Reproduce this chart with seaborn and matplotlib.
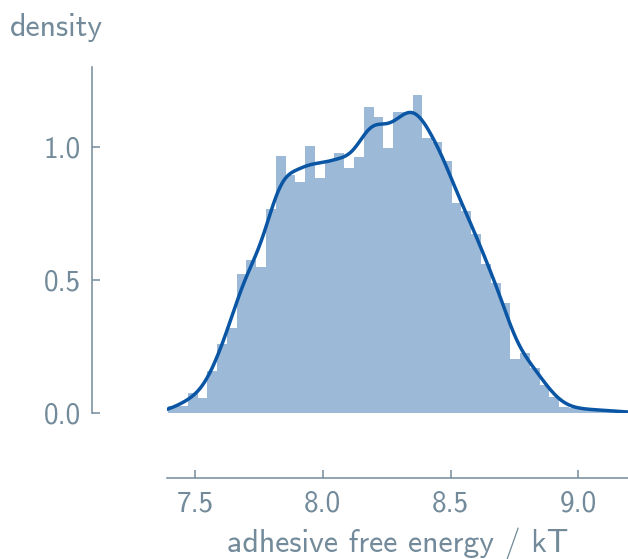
import numpy as np
import pandas as pd
import matplotlib
matplotlib.use("Agg")
import matplotlib.pyplot as plt
import seaborn as sns

# Histogram of adhesive free energies: density per bin (47 equal bins)
bin_start = 7.3955
bin_width = 0.03825
density = [
    0.026, 0.026, 0.074, 0.055, 0.158, 0.259, 0.320, 0.523, 0.575, 0.549,
    0.767, 0.966, 0.894, 0.868, 1.004, 0.883, 0.951, 0.977, 0.921, 0.962,
    1.150, 1.113, 0.996, 1.132, 1.132, 1.195, 1.034, 1.019, 0.947, 0.790,
    0.759, 0.673, 0.558, 0.489, 0.414, 0.204, 0.226, 0.169, 0.107, 0.061,
    0.022, 0.018, 0.015, 0.012, 0.010, 0.008, 0.007,
]
x_ticks = [7.5, 8.0, 8.5, 9.0]
y_ticks = [0.0, 0.5, 1.0]
x_label = "adhesive free energy / kT"
y_label = "density"

n_bins = len(density)
edges = bin_start + bin_width * np.arange(n_bins + 1)
centers = 0.5 * (edges[:-1] + edges[1:])
df = pd.DataFrame({"energy": centers, "density": density})

grey = "#728a9a"
blue = "#0a56a4"

sns.set_style("ticks")
plt.rcParams["font.family"] = ["cmss10", "DejaVu Sans"]
plt.rcParams["axes.unicode_minus"] = False

fig = plt.figure(figsize=(6.28, 5.59), dpi=100)
ax = fig.add_axes([167 / 628, 146 / 559, 461 / 628, 346 / 559])

sns.histplot(data=df, x="energy", weights="density", bins=n_bins,
             binrange=(float(edges[0]), float(edges[-1])),
             stat="count", color="#08519c", alpha=0.4, linewidth=0,
             edgecolor="none", ax=ax)
sns.kdeplot(data=df, x="energy", weights="density", bw_adjust=0.3,
            cut=3, gridsize=800, color=blue, linewidth=2.5, ax=ax)

ax.set_xlim(7.3904, 9.1947)
ax.set_ylim(0, 1.3)
ax.set_xticks(x_ticks)
ax.set_yticks(y_ticks)
ax.set_xticklabels([f"{v:.1f}" for v in x_ticks])
ax.set_yticklabels([f"{v:.1f}" for v in y_ticks])

for side in ("top", "right"):
    ax.spines[side].set_visible(False)
ax.spines["left"].set_position(("outward", 54))
ax.spines["bottom"].set_position(("outward", 47))
for side in ("left", "bottom"):
    ax.spines[side].set_color(grey)
    ax.spines[side].set_linewidth(1.1)

ax.tick_params(axis="both", direction="in", length=6, width=1.1,
               color=grey, labelcolor=grey, labelsize=21)
ax.tick_params(axis="y", pad=8)
ax.tick_params(axis="x", pad=9)

ax.set_xlabel(x_label, fontsize=23, color=grey, labelpad=7)
ax.set_ylabel(y_label, fontsize=23, color=grey, rotation=0,
              ha="left", va="top")
ax.yaxis.set_label_coords(-0.341, 1.157)

fig.savefig("out.png", dpi=100)
